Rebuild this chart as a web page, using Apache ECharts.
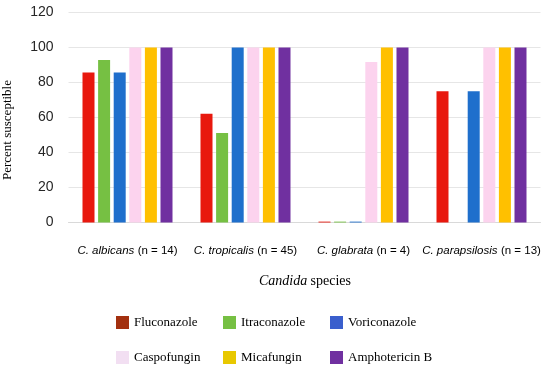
<!DOCTYPE html>
<html><head><meta charset="utf-8">
<script src="https://cdn.jsdelivr.net/npm/echarts@6/dist/echarts.min.js"></script>
<style>html,body{margin:0;padding:0;background:#fff}#c{width:550px;height:371px}</style>
</head><body><div id="c"></div>
<script>
const species = ['C. albicans', 'C. tropicalis', 'C. glabrata', 'C. parapsilosis'];
const counts = [14, 45, 4, 13];
const yTicks = [0, 20, 40, 60, 80, 100, 120];
const drugs = ['Fluconazole', 'Itraconazole', 'Voriconazole', 'Caspofungin', 'Micafungin', 'Amphotericin B'];
const fluconazole = [85.7, 62.2, 0.5, 75];
const itraconazole = [92.9, 51.1, 0.5, 0];
const voriconazole = [85.7, 100, 0.5, 75];
const caspofungin = [100, 100, 91.7, 100];
const micafungin = [100, 100, 100, 100];
const amphotericinB = [100, 100, 100, 100];
const seriesValues = [fluconazole, itraconazole, voriconazole, caspofungin, micafungin, amphotericinB];
const barColors = ['#e8180e', '#76c043', '#1f6fcc', '#fcd3ee', '#ffc000', '#7030a0'];
const legendColors = ['#a3300f', '#76c043', '#3a5fcd', '#f2dff2', '#e8c800', '#7030a0'];

const chart = echarts.init(document.getElementById('c'), null, {renderer: 'canvas'});
const legendPos = [[116, 316], [223, 316], [330, 316], [116, 351], [223, 351], [330, 351]];
const legends = drugs.map((d, i) => ({
  left: legendPos[i][0], top: legendPos[i][1],
  orient: 'horizontal', itemWidth: 13, itemHeight: 13, itemGap: 0, padding: 0,
  icon: 'rect',
  data: [{name: d, itemStyle: {color: legendColors[i]}}],
  textStyle: {fontFamily: 'Liberation Serif', fontSize: 13, color: '#000'},
  selectedMode: false
}));

chart.setOption({
  animation: false,
  grid: {left: 68.5, right: 9.5, top: 12.5, bottom: 148.5, containLabel: false},
  legend: legends,
  graphic: [{
    type: 'text', x: 8, y: 130, rotation: Math.PI / 2,
    style: {text: 'Percent susceptible', fontFamily: 'Liberation Serif', fontSize: 13, fill: '#000',
            align: 'center', verticalAlign: 'middle'}
  }, {
    type: 'text', x: 305, y: 281,
    style: {
      text: '{i|Candida} {n|species}', align: 'center', verticalAlign: 'middle',
      rich: {
        i: {fontFamily: 'Liberation Serif', fontStyle: 'italic', fontSize: 14, fill: '#000'},
        n: {fontFamily: 'Liberation Serif', fontSize: 14, fill: '#000'}
      }
    }
  }],
  xAxis: {
    type: 'category', data: species,
    axisLine: {lineStyle: {color: '#d9d9d9'}},
    axisTick: {show: false},
    axisLabel: {
      margin: 22, interval: 0,
      formatter: (v, idx) => '{i|' + v + '} {n|(n = ' + counts[idx] + ')}',
      rich: {
        i: {fontFamily: 'Liberation Sans', fontStyle: 'italic', fontSize: 11.5, color: '#000'},
        n: {fontFamily: 'Liberation Sans', fontSize: 11.5, color: '#000'}
      }
    }
  },
  yAxis: {
    type: 'value', min: yTicks[0], max: yTicks[yTicks.length - 1], interval: 20,
    axisLine: {show: false}, axisTick: {show: false},
    splitLine: {lineStyle: {color: '#e6e6e6'}},
    axisLabel: {margin: 15, fontFamily: 'Liberation Sans', fontSize: 14, color: '#262626'}
  },
  series: drugs.map((d, i) => ({
    name: d, type: 'bar', data: seriesValues[i],
    barWidth: 12, barGap: '30%',
    itemStyle: {color: barColors[i]}
  }))
});
</script></body></html>
